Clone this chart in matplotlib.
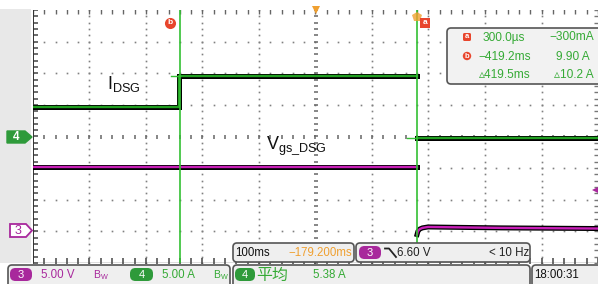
import numpy as np
import matplotlib.pyplot as plt
from matplotlib.patches import FancyBboxPatch, Rectangle, Circle

plt.rcParams['font.family'] = ['Liberation Sans', 'DejaVu Sans']
plt.rcParams['mathtext.fontset'] = 'custom'
plt.rcParams['mathtext.rm'] = 'Liberation Sans'

W, H = 598, 284

# ajustes del osciloscopio
t_centro = -179.2          # ms en el centro de la pantalla
ms_div = 100
ch3_vdiv, ch3_pos = 5.0, -3.0   # V/div, divisiones
ch4_adiv, ch4_pos = 5.0, 0.0    # A/div, divisiones
cursor_a = 0.3             # ms
cursor_b = -419.2          # ms
nivel_disparo = 6.60       # V

# canal 4: corriente I_DSG (A), antes y despues del corte
i_t_antes = [-679.2, -421.0, -421.0, 0.0]
i_a_antes = [4.6, 4.6, 9.5, 9.5]
i_t_despues = [0.5, 320.8]
i_a_despues = [-0.3, -0.3]
# canal 3: tension Vgs_DSG (V), antes y despues del corte
v_t_antes = [-679.2, 0.0]
v_v_antes = [10.1, 10.1]
v_t_despues = [0.5, 2.0, 5.0, 10.0, 20.0, 60.0, 150.0, 320.8]
v_v_despues = [-0.5, 0.0, 0.35, 0.55, 0.7, 0.65, 0.55, 0.45]

# lecturas de pantalla
cur_filas = [('a', '300.0\u00b5s', '\u2212300mA'),
             ('b', '\u2212419.2ms', '9.90 A'),
             ('', '\u25b5419.5ms', '\u25b510.2 A')]
escala_h = '100ms'
pos_h = '\u2212179.200ms'
disparo_txt = '6.60 V'
frec_txt = '< 10 Hz'
ch3_txt, ch4_txt = '5.00 V', '5.00 A'
media_txt = '5.38 A'
hora_txt = '18:00:31'

ROSA = '#a8289c'
VERDE = '#35aa35'
VERDE_TRAZA = '#22a022'
ROSA_TRAZA = '#c81fb8'
NARANJA = '#f0a030'
ROJO = '#e8452c'

fig = plt.figure(figsize=(W / 100, H / 100), dpi=100)
fig.patch.set_facecolor('white')

ax = fig.add_axes([33 / W, (H - 263) / H, 565 / W, 253 / H])
x0, x1 = t_centro - 5 * ms_div, t_centro + 5 * ms_div
ax.set_xlim(x0, x1)
ax.set_ylim(-4, 4)
ax.axis('off')

# reticula punteada
gris = '#808080'
ys = np.arange(-4, 4.001, 0.2)
xs = x0 + np.arange(0, 10 * ms_div + 0.1, ms_div / 5)
for k in range(1, 10):
    if k == 5:
        continue
    ax.plot(np.full_like(ys, x0 + k * ms_div), ys, ls='none', marker='s',
            ms=1.2, color=gris, mew=0)
for j in range(-3, 4):
    if j == 0:
        continue
    ax.plot(xs, np.full_like(xs, j), ls='none', marker='s', ms=1.2,
            color=gris, mew=0)
# ejes centrales con marcas
ax.plot(np.full_like(ys, t_centro), ys, ls='none', marker='_', ms=3.5,
        mew=1.1, color='#666666')
ax.plot(xs, np.zeros_like(xs), ls='none', marker='|', ms=3.5, mew=1.1,
        color='#666666')
# bordes
ax.plot(np.full_like(ys, x0), ys, ls='none', marker='_', ms=7, mew=1.1,
        color='#444444', clip_on=True)
ax.plot(xs, np.full_like(xs, -4), ls='none', marker='|', ms=7, mew=1.1,
        color='#444444', clip_on=True)
ax.plot(xs, np.full_like(xs, 4), ls='none', marker='|', ms=6, mew=1.0,
        color='#666666', clip_on=True)
ax.plot(np.full_like(ys, x1), ys, ls='none', marker='_', ms=6, mew=1.0,
        color='#777777', clip_on=True)
ax.axvline(x0, color='#333333', lw=1.4)
ax.axhline(-4, color='#555555', lw=1.0)

# trazas
for tt, aa in ((i_t_antes, i_a_antes), (i_t_despues, i_a_despues)):
    yy = np.array(aa) / ch4_adiv + ch4_pos
    ax.plot(tt, yy, color='black', lw=3.6, solid_joinstyle='miter', zorder=3)
    ax.plot(tt, yy, color=VERDE_TRAZA, lw=1.7, zorder=4)
for tt, vv in ((v_t_antes, v_v_antes), (v_t_despues, v_v_despues)):
    yy = np.array(vv) / ch3_vdiv + ch3_pos
    ax.plot(tt, yy, color='black', lw=3.6, zorder=3)
    ax.plot(tt, yy, color=ROSA_TRAZA, lw=1.7, zorder=4)

# cursores
for c in (cursor_a, cursor_b):
    ax.axvline(c, color='#33c033', lw=1.2, zorder=5)
ax.plot([cursor_b - 16, cursor_b], [9.5 / ch4_adiv + ch4_pos] * 2,
        color='#33c033', lw=1.0, zorder=5)
ax.plot([cursor_a - 17, cursor_a], [-0.3 / ch4_adiv + ch4_pos] * 2,
        color='#33c033', lw=1.0, zorder=5)

# marcadores
ax.plot([x1 - 6], [nivel_disparo / ch3_vdiv + ch3_pos], marker='<', ms=5,
        color=ROSA, mew=0, clip_on=False, zorder=6)
ax.plot([t_centro], [4.0], marker='v', ms=6, color=NARANJA, mew=0,
        clip_on=False, zorder=6)
ax.plot([0.0], [3.78], marker='p', ms=7, color=NARANJA, mew=0, alpha=0.8,
        clip_on=False, zorder=6)
ax.plot([cursor_b - 17], [3.6], marker='o', ms=8, color=ROJO, mew=0, zorder=6)
ax.text(cursor_b - 17, 3.6, 'b', color='white', fontsize=6, ha='center',
        va='center', zorder=7, fontweight='bold')
ax.plot([cursor_a + 14], [3.6], marker='s', ms=7, color=ROJO, mew=0, zorder=6)
ax.text(cursor_a + 14, 3.6, 'a', color='white', fontsize=6, ha='center',
        va='center', zorder=7, fontweight='bold')

# capa superior en pixeles
capa = fig.add_axes([0, 0, 1, 1])
capa.set_xlim(0, W)
capa.set_ylim(H, 0)
capa.axis('off')

capa.add_patch(Rectangle((0, 9), 31, 254, color='#e8e8e8', lw=0, zorder=0))

capa.text(107, 89, r'$\mathregular{I_{DSG}}$', fontsize=13, color='#111111')
capa.text(266, 149, r'$\mathregular{V_{gs\_DSG}}$', fontsize=13,
          color='#111111')


def caja(x, y, w, h, fc='#efefef'):
    capa.add_patch(FancyBboxPatch((x, y), w, h,
                                  boxstyle='round,pad=0,rounding_size=4',
                                  fc=fc, ec='#555555', lw=1.2, zorder=2))


def pastilla(x, y, w, h, color, txt):
    capa.add_patch(FancyBboxPatch((x, y), w, h,
                                  boxstyle='round,pad=0,rounding_size=5.5',
                                  fc=color, ec='none', zorder=3))
    capa.text(x + w / 2, y + h / 2 + 0.5, txt, color='white', fontsize=8,
              ha='center', va='center', zorder=4)


# marcadores de canal a la izquierda
capa.fill([7, 25, 32, 25, 7], [131, 131, 137, 143, 143], color='#2e9a3a',
          zorder=3)
capa.text(16, 137.5, '4', color='white', fontsize=8.5, ha='center',
          va='center', zorder=4, fontweight='bold')
capa.fill([10, 26, 32, 26, 10, 10], [224, 224, 230.5, 237, 237, 224],
          fc='white', ec=ROSA, lw=1.3, zorder=3)
capa.text(18, 231, '3', color=ROSA, fontsize=9, ha='center', va='center',
          zorder=4)

# recuadro de cursores
caja(447, 28, 160, 56, fc='#f2f2f2')
fs = 8.3
for n, (icono, t_txt, a_txt) in enumerate(cur_filas):
    yy = 37 + 19 * n
    if icono == 'a':
        capa.add_patch(FancyBboxPatch((463, yy - 4), 8, 8,
                                      boxstyle='round,pad=0,rounding_size=1.5',
                                      fc=ROJO, ec='none', zorder=3))
    elif icono == 'b':
        capa.add_patch(Circle((467, yy), 4.2, fc=ROJO, ec='none', zorder=3))
    if icono:
        capa.text(467, yy, icono, color='white', fontsize=5.5, ha='center',
                  va='center', zorder=4, fontweight='bold')
    capa.text(504 if n == 0 else 505, yy + 0.5, t_txt, color=VERDE,
              fontsize=8.6, ha='center', va='center', zorder=4)
    capa.text(594 if n != 1 else 590, yy + 0.5, a_txt, color=VERDE,
              fontsize=8.6, ha='right', va='center', zorder=4)

# barras inferiores
caja(233, 243, 121, 19)
capa.text(235, 253, escala_h, color='#111111', fontsize=fs, va='center',
          zorder=4)
capa.text(352, 253, pos_h, color=NARANJA, fontsize=fs, va='center',
          ha='right', zorder=4)
caja(356, 243, 174, 19)
pastilla(359, 246, 22, 13, ROSA, '3')
capa.plot([385, 389, 396], [248.5, 248.5, 257], color='#222222', lw=1.3,
          zorder=4)
capa.text(397, 253, disparo_txt, color='#222222', fontsize=fs, va='center',
          zorder=4)
capa.text(529, 253, frec_txt, color='#222222', fontsize=fs, va='center',
          ha='right', zorder=4)

caja(8, 265, 222, 24)
pastilla(10, 268, 22, 13, ROSA, '3')
capa.text(41, 275, ch3_txt, color=ROSA, fontsize=fs, va='center', zorder=4)
capa.text(93, 275, r'$\mathregular{B_W}$', color=ROSA, fontsize=7.5,
          va='center', zorder=4)
pastilla(130, 268, 23, 13, '#2e9a3a', '4')
capa.text(162, 275, ch4_txt, color=VERDE, fontsize=fs, va='center', zorder=4)
capa.text(213, 275, r'$\mathregular{B_W}$', color=VERDE, fontsize=7.5,
          va='center', zorder=4)

caja(233, 265, 297, 24)
pastilla(235, 268, 20, 13, '#2e9a3a', '4')
capa.text(256, 275, '平均', color=VERDE, fontsize=11.5, va='center',
          family=['Noto Sans CJK SC', 'DejaVu Sans'], zorder=4)
capa.text(313, 275, media_txt, color=VERDE, fontsize=fs, va='center',
          zorder=4)

caja(532, 265, 80, 24)
capa.text(534, 275, hora_txt, color='#111111', fontsize=fs, va='center',
          zorder=4)

fig.savefig('out.png', dpi=100)
